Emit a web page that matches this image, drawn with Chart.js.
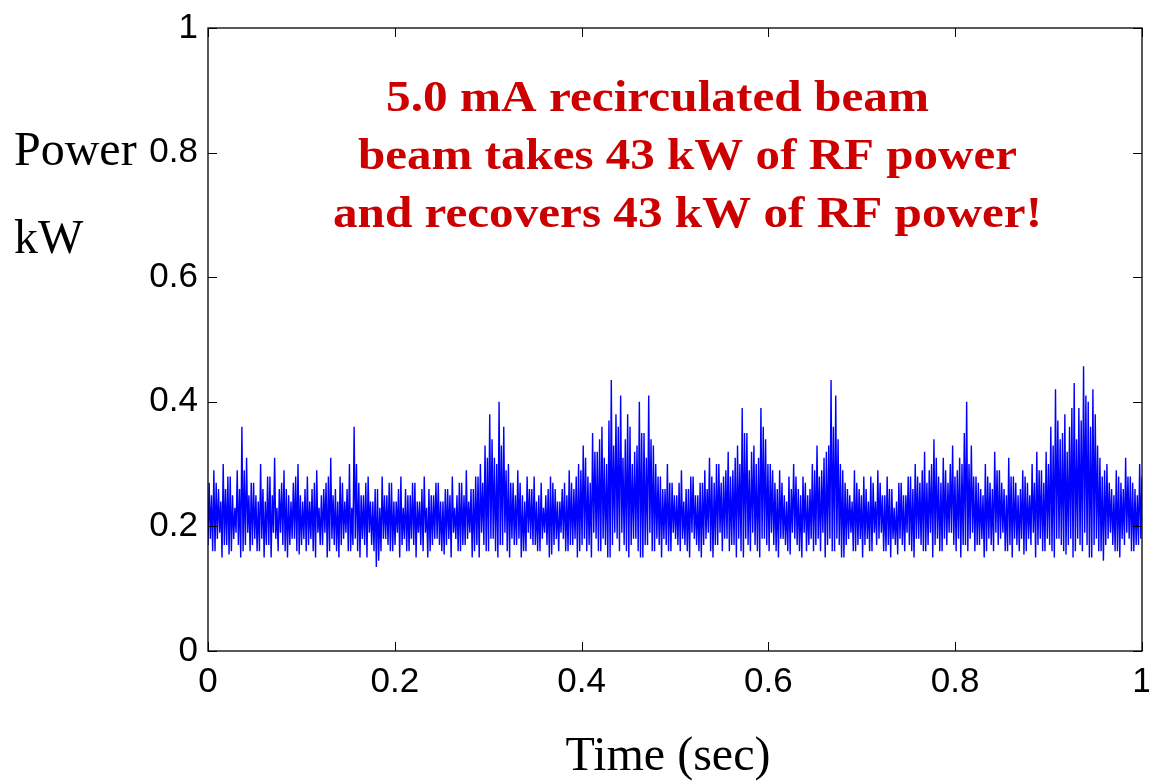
<!DOCTYPE html>
<html>
<head>
<meta charset="utf-8">
<script src="https://cdn.jsdelivr.net/npm/chart.js@4/dist/chart.umd.min.js"></script>
<style>
  html, body { margin: 0; padding: 0; background: #fff; }
  #wrap { width: 1149px; height: 782px; }
</style>
</head>
<body>
<div id="wrap"><canvas id="powerChart" width="1149" height="782"></canvas></div>
<script>
// RF power trace (kW). Each of the 200 slots over 1 s holds
// a big swing (trough -> peak) followed by a smaller one (subTrough -> subPeak).
const peakKw = [
  0.27,0.29,0.26,0.30,0.28,0.25,0.29, 0.36,0.31,
  0.27,0.25,0.30,0.24,0.28,0.31,0.26,0.29,0.25,0.27,0.30,0.24,0.28,0.26,0.29,0.25,0.27,0.31,0.26,0.28,0.24,0.30,
  0.36,
  0.27,0.25,0.28,0.24,0.26,0.28,0.25,0.27,0.24,0.28,0.26,0.25,0.27,0.24,0.28,0.26,0.25,0.27,0.24,0.26,0.28,0.25,0.27,0.29,0.26,0.28,0.30,
  0.33,0.38,0.31,0.40,0.36,0.30,
  0.27,0.29,0.25,0.28,0.26,0.24,0.27,0.25,0.28,0.26,0.24,0.27,0.29,0.26,
  0.30,0.33,0.28,0.35,0.32,0.36,0.30,0.435,0.38,0.41,0.34,0.36,0.32,0.40,0.35,0.41,0.33,
  0.28,0.26,0.30,0.27,0.25,0.29,0.26,0.28,0.25,0.27,
  0.29,0.31,0.27,0.30,0.28,0.32,0.29,
  0.33,0.39,0.35,0.32,0.30,0.39,0.34,0.30,
  0.27,0.29,0.25,0.28,0.30,0.26,0.28,0.25,
  0.30,0.33,0.29,0.32,0.435,0.41,0.30,
  0.27,0.25,0.29,0.26,0.28,0.24,0.27,0.29,0.25,0.28,0.26,0.24,0.27,0.25,0.28,
  0.30,0.27,0.32,0.29,0.34,0.28,0.31,0.27,0.33,0.29,
  0.30,0.40,0.33,
  0.28,0.26,0.30,0.27,0.32,0.29,0.26,0.31,0.28,0.25,0.29,0.27,0.30,0.32,0.29,
  0.32,0.36,0.42,0.34,0.38,0.36,0.43,0.39,0.457,0.40,0.42,0.33,
  0.28,0.30,0.26,0.29,0.27,0.31,0.28,0.26,0.30
];
const troughKw = [
  0.17,0.16,0.18,0.15,0.17,0.16,0.19,0.15,0.17,0.16,0.18,0.16,0.15,0.17,0.19,0.16,0.17,0.15,0.18,0.16,
  0.17,0.16,0.18,0.15,0.17,0.19,0.16,0.17,0.15,0.18,0.16,0.17,0.16,0.18,0.15,0.17,0.135,0.16,0.18,0.16,
  0.17,0.15,0.18,0.16,0.17,0.19,0.16,0.15,0.17,0.18,0.16,0.17,0.15,0.18,0.16,0.17,0.19,0.16,0.15,0.17,
  0.16,0.18,0.15,0.17,0.16,0.18,0.17,0.15,0.16,0.18,0.17,0.16,0.19,0.15,0.17,0.16,0.18,0.16,0.17,0.15,
  0.17,0.16,0.15,0.18,0.16,0.17,0.15,0.19,0.16,0.17,0.15,0.18,0.16,0.15,0.17,0.16,0.18,0.15,0.17,0.16,
  0.18,0.16,0.17,0.15,0.18,0.16,0.17,0.19,0.15,0.17,0.16,0.18,0.17,0.15,0.16,0.18,0.16,0.17,0.15,0.18,
  0.16,0.17,0.15,0.18,0.16,0.19,0.17,0.15,0.16,0.18,0.17,0.16,0.15,0.18,0.16,0.17,0.15,0.18,0.16,0.17,
  0.15,0.18,0.16,0.17,0.19,0.16,0.15,0.17,0.18,0.16,0.17,0.15,0.18,0.16,0.17,0.15,0.18,0.16,0.17,0.19,
  0.16,0.15,0.17,0.18,0.16,0.17,0.15,0.18,0.16,0.17,0.19,0.16,0.15,0.17,0.18,0.16,0.17,0.15,0.18,0.16,
  0.17,0.15,0.18,0.16,0.17,0.15,0.18,0.16,0.17,0.15,0.18,0.16,0.17,0.19,0.16,0.15,0.17,0.18,0.16,0.17
];
const subPeakKw = [
  0.25,0.27,0.24,0.26,0.28,0.23,0.26,0.29,0.25,0.27,0.24,0.26,0.28,0.25,0.23,0.27,0.26,0.24,0.28,0.25,
  0.26,0.24,0.27,0.23,0.26,0.28,0.25,0.24,0.27,0.26,0.23,0.30,0.25,0.27,0.24,0.26,0.23,0.25,0.27,0.24,
  0.26,0.23,0.25,0.27,0.24,0.26,0.23,0.25,0.27,0.24,0.26,0.25,0.23,0.27,0.25,0.24,0.26,0.28,0.27,0.31,
  0.34,0.30,0.33,0.29,0.27,0.25,0.27,0.24,0.26,0.28,0.25,0.23,0.26,0.27,0.24,0.26,0.25,0.27,0.28,0.29,
  0.31,0.27,0.32,0.34,0.31,0.37,0.33,0.36,0.31,0.38,0.30,0.33,0.35,0.31,0.34,0.30,0.28,0.26,0.27,0.25,
  0.27,0.24,0.26,0.28,0.25,0.27,0.26,0.28,0.30,0.27,0.29,0.28,0.31,0.30,0.35,0.29,0.33,0.31,0.36,0.30,
  0.29,0.26,0.27,0.24,0.26,0.28,0.25,0.27,0.26,0.29,0.28,0.31,0.33,0.36,0.34,0.29,0.26,0.24,0.27,0.25,
  0.26,0.28,0.24,0.27,0.25,0.26,0.23,0.27,0.25,0.28,0.26,0.28,0.29,0.27,0.30,0.31,0.27,0.29,0.30,0.28,
  0.31,0.35,0.30,0.28,0.27,0.25,0.28,0.26,0.29,0.27,0.25,0.28,0.27,0.26,0.28,0.25,0.27,0.29,0.27,0.30,
  0.33,0.37,0.35,0.32,0.39,0.34,0.37,0.41,0.36,0.38,0.31,0.29,0.27,0.25,0.28,0.26,0.28,0.27,0.25,0.28
];
const subTroughKw = [
  0.18,0.16,0.19,0.17,0.155,0.18,0.17,0.16,0.19,0.17,0.16,0.18,0.17,0.15,0.18,0.19,0.16,0.17,0.18,0.155,
  0.18,0.17,0.16,0.19,0.17,0.15,0.18,0.16,0.17,0.19,0.16,0.18,0.15,0.17,0.19,0.16,0.145,0.18,0.17,0.16,
  0.19,0.17,0.16,0.18,0.15,0.17,0.19,0.16,0.18,0.17,0.155,0.18,0.19,0.16,0.17,0.18,0.15,0.17,0.19,0.16,
  0.18,0.16,0.17,0.19,0.15,0.17,0.18,0.16,0.19,0.17,0.16,0.18,0.17,0.155,0.18,0.19,0.16,0.17,0.18,0.16,
  0.18,0.17,0.19,0.16,0.18,0.15,0.17,0.18,0.19,0.16,0.17,0.18,0.15,0.17,0.19,0.16,0.17,0.18,0.16,0.19,
  0.17,0.18,0.16,0.19,0.17,0.15,0.18,0.16,0.17,0.19,0.18,0.16,0.17,0.18,0.15,0.17,0.19,0.16,0.18,0.17,
  0.19,0.16,0.18,0.17,0.155,0.18,0.16,0.19,0.17,0.16,0.18,0.19,0.17,0.16,0.18,0.15,0.17,0.19,0.16,0.18,
  0.17,0.16,0.19,0.18,0.16,0.17,0.18,0.155,0.17,0.19,0.16,0.18,0.17,0.16,0.19,0.17,0.16,0.18,0.19,0.17,
  0.18,0.17,0.16,0.19,0.17,0.18,0.16,0.17,0.19,0.18,0.16,0.17,0.18,0.16,0.155,0.18,0.19,0.17,0.16,0.18,
  0.16,0.18,0.17,0.155,0.18,0.16,0.17,0.19,0.15,0.17,0.16,0.145,0.18,0.17,0.16,0.18,0.19,0.16,0.17,0.18
];
const timeRange = [0, 1];     // sec
const powerRange = [0, 1];    // kW
const tickStep = 0.2;
const noteLines = [
  '5.0 mA recirculated beam',
  'beam takes 43 kW of RF power',
  'and recovers 43 kW of RF power!'
];

// trough, peak, subTrough, subPeak ... on an even time base
const trace = [];
const perSlot = [troughKw, peakKw, subTroughKw, subPeakKw];
const nPts = peakKw.length * perSlot.length;
for (let i = 0; i < peakKw.length; i++) {
  perSlot.forEach((arr, k) => {
    const n = i * perSlot.length + k;
    trace.push({ x: n / (nPts - 1), y: arr[i] });
  });
}

const SANS = '"Liberation Sans", Arial, sans-serif';
const SERIF = '"Liberation Serif", "Times New Roman", serif';
const fmtTick = v => String(+(+v).toFixed(1));   // 0, 0.2 ... 1

// matlab-ish box with inward ticks + the text bits
const boxPlugin = {
  id: 'matlabBox',
  afterDatasetsDraw(chart) {
    const { ctx, chartArea: a, scales } = chart;
    const tl = 9;
    ctx.save();
    ctx.strokeStyle = '#000';
    ctx.lineWidth = 1.3;
    ctx.strokeRect(a.left, a.top, a.right - a.left, a.bottom - a.top);
    ctx.beginPath();
    scales.x.ticks.forEach(t => {
      const px = Math.round(scales.x.getPixelForValue(t.value)) + 0.5;
      ctx.moveTo(px, a.bottom); ctx.lineTo(px, a.bottom - tl);
      ctx.moveTo(px, a.top); ctx.lineTo(px, a.top + tl);
    });
    scales.y.ticks.forEach(t => {
      const py = Math.round(scales.y.getPixelForValue(t.value)) + 0.5;
      ctx.moveTo(a.left, py); ctx.lineTo(a.left + tl, py);
      ctx.moveTo(a.right, py); ctx.lineTo(a.right - tl, py);
    });
    ctx.lineWidth = 1;
    ctx.stroke();

    ctx.fillStyle = '#000';
    ctx.textBaseline = 'alphabetic';
    ctx.textAlign = 'left';
    ctx.font = '48px ' + SERIF;
    ctx.fillText('Power', 14, 165);
    ctx.fillText('kW', 14, 253);
    ctx.textAlign = 'center';
    ctx.fillText('Time (sec)', 668, 770);

    // red annotation, each line fitted to its span
    const spans = [[386, 929, 111], [358, 1017, 169], [333, 1042, 227]];
    ctx.fillStyle = '#cc0000';
    ctx.font = 'bold 44px ' + SERIF;
    ctx.textAlign = 'left';
    noteLines.forEach((s, i) => {
      const [x0, x1, yb] = spans[i];
      const w = ctx.measureText(s).width;
      ctx.save();
      ctx.translate(x0, yb);
      ctx.scale((x1 - x0) / w, 1);
      ctx.fillText(s, 0, 0);
      ctx.restore();
    });
    ctx.restore();
  }
};

new Chart(document.getElementById('powerChart'), {
  type: 'line',
  data: {
    datasets: [{
      label: 'Power',
      data: trace,
      borderColor: '#0000ff',
      borderWidth: 1.4,
      pointRadius: 0,
      tension: 0,
      fill: false
    }]
  },
  options: {
    responsive: false,
    animation: false,
    layout: { padding: { left: 0, right: 7, top: 28, bottom: 0 } },
    plugins: { legend: { display: false }, tooltip: { enabled: false } },
    scales: {
      x: {
        type: 'linear',
        min: timeRange[0],
        max: timeRange[1],
        grid: { display: false, drawTicks: false },
        border: { display: false },
        ticks: {
          stepSize: tickStep,
          color: '#000',
          padding: 10,
          maxRotation: 0,
          callback: fmtTick,
          font: { family: SANS, size: 35 }
        },
        afterFit(scale) {
          scale.height = 131;
          scale.paddingLeft = 0;
          scale.paddingRight = 0;
        }
      },
      y: {
        min: powerRange[0],
        max: powerRange[1],
        grid: { display: false, drawTicks: false },
        border: { display: false },
        ticks: {
          stepSize: tickStep,
          color: '#000',
          padding: 10,
          callback: fmtTick,
          font: { family: SANS, size: 35 }
        },
        afterFit(scale) {
          scale.width = 208;
          scale.paddingTop = 0;
          scale.paddingBottom = 0;
        }
      }
    }
  },
  plugins: [boxPlugin]
});
</script>
</body>
</html>
